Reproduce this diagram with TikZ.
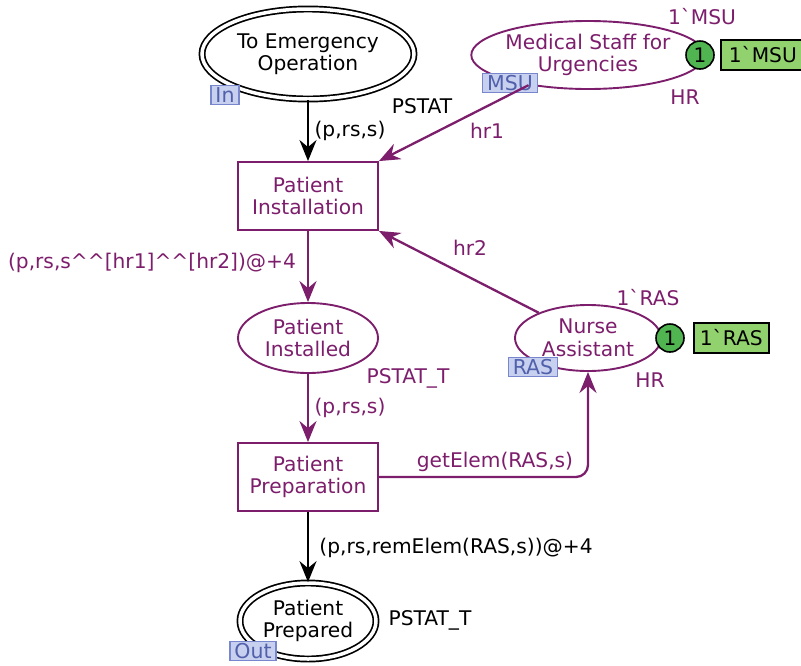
\documentclass[tikz,border=0pt]{standalone}
\usepackage{fontspec}
\setmainfont{DejaVu Sans}
\usetikzlibrary{shapes.geometric,arrows.meta}
\definecolor{cpnpurple}{RGB}{125,30,108}
\definecolor{tagfill}{RGB}{200,208,240}
\definecolor{tagdraw}{RGB}{120,135,205}
\definecolor{tagtext}{RGB}{80,96,170}
\definecolor{tokfill}{RGB}{80,180,80}
\definecolor{markfill}{RGB}{145,210,110}
\begin{document}
\begin{tikzpicture}[x=1pt,y=-1pt,
  font=\fontsize{20.2}{22.5}\selectfont,
  place/.style={ellipse,draw=cpnpurple,text=cpnpurple,line width=1.9pt,inner sep=0pt,align=center},
  portplace/.style={ellipse,draw=black,text=black,double,double distance=3.5pt,line width=1.7pt,inner sep=0pt,align=center},
  trans/.style={rectangle,draw=cpnpurple,text=cpnpurple,line width=1.9pt,minimum width=140pt,minimum height=68pt,inner sep=0pt,align=center},
  tag/.style={rectangle,draw=tagdraw,fill=tagfill,text=tagtext,line width=1.3pt,inner xsep=4.5pt,inner ysep=2pt,font=\fontsize{20.5}{21}\selectfont},
  token/.style={circle,draw=black,fill=tokfill,line width=1.6pt,minimum size=28pt,inner sep=0pt,font=\fontsize{20}{21}\selectfont},
  marking/.style={rectangle,draw=black,fill=markfill,line width=1.6pt,inner sep=0pt,minimum height=30pt},
  arcb/.style={draw=black,line width=2.3pt,-{Stealth[length=21pt,width=17pt,inset=7pt]}},
  arcp/.style={draw=cpnpurple,line width=2.3pt,-{Stealth[length=21pt,width=17pt,inset=7pt]}},
  plab/.style={text=cpnpurple,inner sep=0pt},
  blab/.style={text=black,inner sep=0pt}]
\useasboundingbox (0,0) rectangle (801,665);

% places
\node[portplace,minimum width=212pt,minimum height=90pt] (emerg) at (308,54) {To Emergency\\Operation};
\node[place,minimum width=204pt,minimum height=68pt] (msu) at (588,55) {Medical Staff for\\Urgencies};
\node[place,minimum width=140pt,minimum height=70pt] (installed) at (308,338) {Patient\\Installed};
\node[place,minimum width=146pt,minimum height=66pt] (nurse) at (588,338) {Nurse\\Assistant};
\node[portplace,minimum width=136pt,minimum height=76pt] (prepared) at (308,621) {Patient\\Prepared};

% transitions
\node[trans] (install) at (308,196) {Patient\\Installation};
\node[trans] (prep) at (308,477) {Patient\\Preparation};

% port and fusion tags
\node[tag] (tin) at (225,95) {In};
\node[tag] (tmsu) at (510,83) {MSU};
\node[tag] (tras) at (533,367) {RAS};
\node[tag] (tout) at (253,651) {Out};

% markings
\node[token] (tokmsu) at (700,55) {1};
\node[marking,minimum width=84pt,anchor=west] (mkmsu) at (720,55) {1\textasciigrave MSU};
\node[token] (tokras) at (670,338) {1};
\node[marking,minimum width=75pt,anchor=west] (mkras) at (693,338) {1\textasciigrave RAS};

% arcs
\draw[arcb] (emerg) -- (install);
\draw[arcp] (msu) -- (install.north east);
\draw[arcp] (install) -- (installed);
\draw[arcp] (nurse) -- (install.south east);
\draw[arcp] (installed) -- (prep);
\draw[arcp,rounded corners=12pt] (prep.east) -| (nurse.south);
\draw[arcb] (prep) -- (prepared);

% types, initial markings and inscriptions
\node[blab] (ty1) at (422,106) {PSTAT};
\node[blab] (in1) at (350,131) {(p,rs,s)};
\node[plab] (in2) at (487,131) {hr1};
\node[plab] (im1) at (702,17) {1\textasciigrave MSU};
\node[plab] (ty2) at (685,97) {HR};
\node[plab] (in3) at (152,263) {(p,rs,s\textasciicircum\textasciicircum[hr1]\textasciicircum\textasciicircum[hr2])@+4};
\node[plab] (in4) at (470,248) {hr2};
\node[plab] (im2) at (648,298) {1\textasciigrave RAS};
\node[plab] (ty3) at (650,380) {HR};
\node[plab] (ty4) at (408,378) {PSTAT\_T};
\node[plab] (in5) at (350,408) {(p,rs,s)};
\node[plab] (in6) at (495,462) {getElem(RAS,s)};
\node[blab] (in7) at (456,548) {(p,rs,remElem(RAS,s))@+4};
\node[blab] (ty5) at (430,620) {PSTAT\_T};
\end{tikzpicture}
\end{document}
